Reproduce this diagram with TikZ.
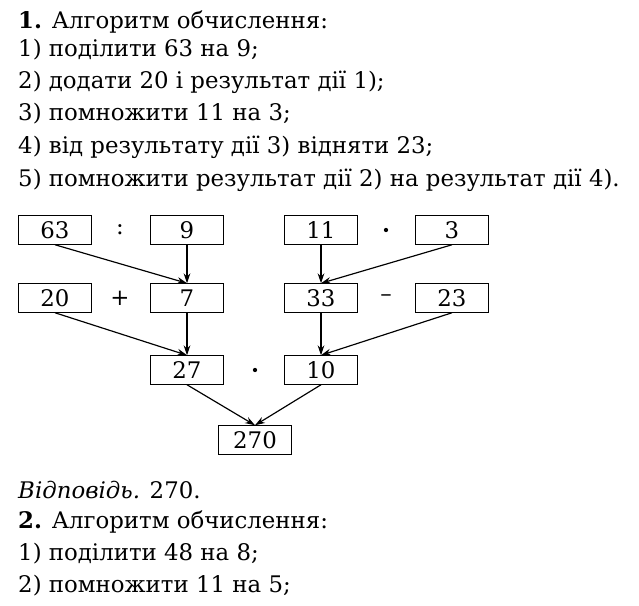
\documentclass[tikz,border=0pt]{standalone}
\usepackage{fontspec}
\setmainfont{DejaVu Serif}
\usetikzlibrary{positioning}
\tikzset{
  numbox/.style = {draw, line width = 1pt, minimum width = 2.2cm, minimum height = 0.85cm, inner sep = 0pt},
  txt/.style = {anchor = west, inner sep = 0pt},
  link/.style = {-{Stealth[length = 3mm, width = 2mm]}, line width = 1pt}
}
\usetikzlibrary{arrows.meta}
\begin{document}
\begin{tikzpicture}[x = 0.03cm, y = -0.03cm, font = \fontsize{19.5}{23}\selectfont]
			\useasboundingbox (0, 0) rectangle (639, 605);
			% text above
			\node[txt] (t0) at (18, 22) {\textbf{1.} Алгоритм обчислення:};
			\node[txt] (t1) at (18, 50) {1) поділити 63 на 9;};
			\node[txt] (t2) at (18, 82) {2) додати 20 і результат дії 1);};
			\node[txt] (t3) at (18, 114) {3) помножити 11 на 3;};
			\node[txt] (t4) at (18, 147) {4) від результату дії 3) відняти 23;};
			\node[txt] (t5) at (18, 180) {5) помножити результат дії 2) на результат дії 4).};
			
			% boxes
			\node[numbox] (a1) at (55, 230) {63};
			\node[numbox] (a2) at (187, 230) {9};
			\node[numbox] (a3) at (321, 230) {11};
			\node[numbox] (a4) at (452, 230) {3};
			\node[numbox] (b1) at (55, 298) {20};
			\node[numbox] (b2) at (187, 298) {7};
			\node[numbox] (b3) at (321, 298) {33};
			\node[numbox] (b4) at (452, 298) {23};
			\node[numbox] (c1) at (187, 370) {27};
			\node[numbox] (c2) at (321, 370) {10};
			\node[numbox] (d1) at (255, 440) {270};
			
			\node (o1) at (120, 230) {:};
			\node[circle, fill, inner sep = 1.3pt] (o2) at (386, 230) {};
			\node (o3) at (120, 298) {+};
			\node (o4) at (386, 298) {--};
			\node[circle, fill, inner sep = 1.3pt] (o5) at (255, 370) {};
			
			\draw[link] (a1.south) -- (b2.north);
			\draw[link] (a2) -- (b2);
			\draw[link] (a3) -- (b3);
			\draw[link] (a4.south) -- (b3.north);
			\draw[link] (b1.south) -- (c1.north);
			\draw[link] (b2) -- (c1);
			\draw[link] (b3) -- (c2);
			\draw[link] (b4.south) -- (c2.north);
			\draw[link] (c1.south) -- (d1.north);
			\draw[link] (c2.south) -- (d1.north);
			
			% text below
			\node[txt] (u0) at (18, 490) {\textit{Відповідь.} 270.};
			\node[txt] (u1) at (18, 522) {\textbf{2.} Алгоритм обчислення:};
			\node[txt] (u2) at (18, 554) {1) поділити 48 на 8;};
			\node[txt] (u3) at (18, 586) {2) помножити 11 на 5;};
		\end{tikzpicture}
\end{document}
